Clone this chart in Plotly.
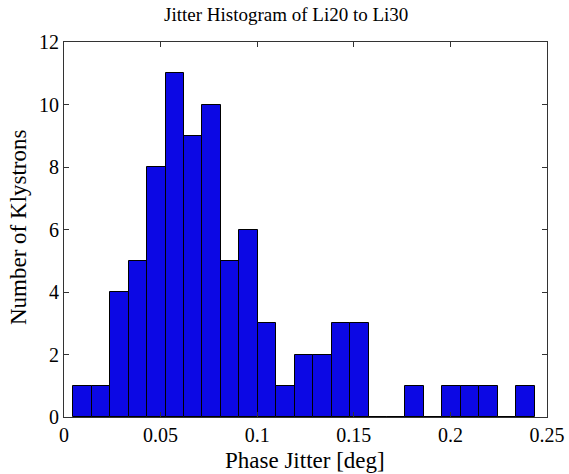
import numpy as np
import plotly.graph_objects as go

# Klystron phase-jitter histogram, Li20 to Li30 (25 equal-width bins)
bin_lo = 0.0048
bin_hi = 0.2436
counts = [1, 1, 4, 5, 8, 11, 9, 10, 5, 6, 3, 1, 2, 2, 3, 3, 0, 0, 1, 0, 1, 1, 1, 0, 1]
x_ticks = [0, 0.05, 0.1, 0.15, 0.2, 0.25]
x_tick_text = ["0", "0.05", "0.1", "0.15", "0.2", "0.25"]
y_ticks = [0, 2, 4, 6, 8, 10, 12]

edges = np.linspace(bin_lo, bin_hi, len(counts) + 1)
centers = (edges[:-1] + edges[1:]) / 2
width = edges[1] - edges[0]

FONT = "Liberation Serif, Times New Roman, serif"

# Plot-area box in pixels
W, H = 569, 474
L, R, T, B = 64, 22, 42, 57
plot_w = W - L - R
plot_h = H - T - B


def px_x(px):
    return (px - L) / plot_w


def px_y(py):
    return (H - B - py) / plot_h


fig = go.Figure(
    go.Bar(
        x=centers,
        y=counts,
        width=width,
        marker=dict(color="rgb(12,8,228)", line=dict(color="black", width=1)),
        hoverinfo="x+y",
    )
)

axis_common = dict(
    showgrid=False,
    zeroline=False,
    showline=True,
    linecolor="#333333",
    linewidth=1,
    mirror="ticks",
    ticks="inside",
    ticklen=5,
    tickcolor="#333333",
    automargin=False,
    tickfont=dict(family=FONT, size=20, color="black"),
)

fig.update_layout(
    width=W,
    height=H,
    margin=dict(l=L, r=R, t=T, b=B),
    paper_bgcolor="white",
    plot_bgcolor="white",
    showlegend=False,
    bargap=0,
    xaxis=dict(range=[0, 0.25], tickvals=x_ticks, ticktext=x_tick_text, **axis_common),
    yaxis=dict(range=[0, 12], tickvals=y_ticks, **axis_common),
    annotations=[
        dict(text="Jitter Histogram of Li20 to Li30", x=px_x(286), y=px_y(15),
             xref="paper", yref="paper", xanchor="center", yanchor="middle",
             showarrow=False, font=dict(family=FONT, size=19, color="black")),
        dict(text="Phase Jitter [deg]", x=px_x(305), y=px_y(460),
             xref="paper", yref="paper", xanchor="center", yanchor="middle",
             showarrow=False, font=dict(family=FONT, size=23, color="black")),
        dict(text="Number of Klystrons", x=px_x(19), y=px_y(227),
             xref="paper", yref="paper", xanchor="center", yanchor="middle",
             textangle=-90, showarrow=False, font=dict(family=FONT, size=23, color="black")),
    ],
)

fig.write_html("out.html")
